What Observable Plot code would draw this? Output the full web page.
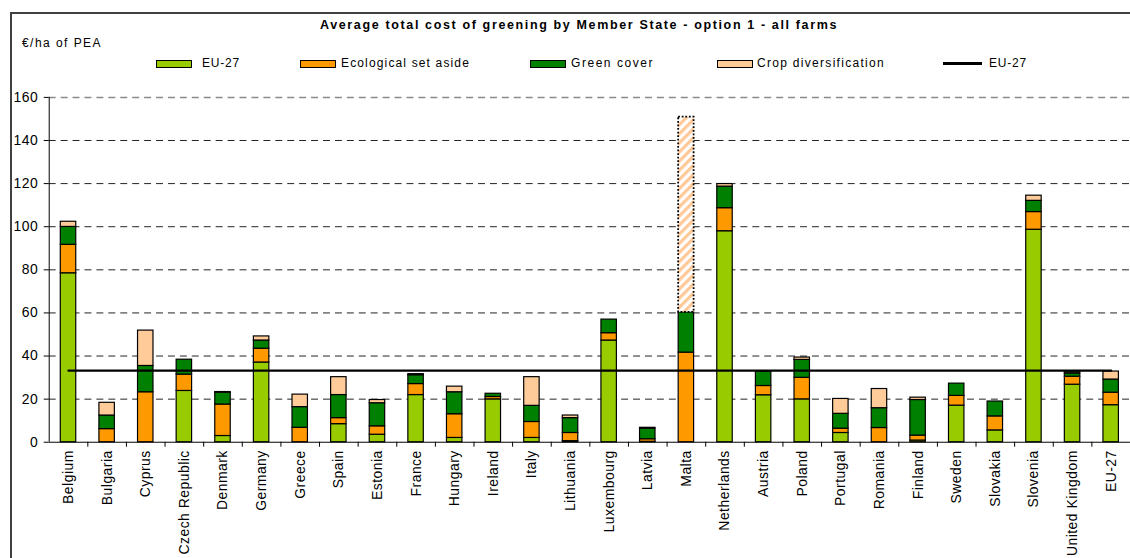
<!DOCTYPE html>
<html>
<head>
<meta charset="utf-8">
<script src="https://cdn.jsdelivr.net/npm/d3@7"></script>
<script src="https://cdn.jsdelivr.net/npm/@observablehq/plot@0.6"></script>
<style>
  html, body { margin: 0; padding: 0; background: #fff; overflow: hidden; }
  #root { position: relative; width: 1130px; height: 558px; overflow: hidden;
          font-family: "Liberation Sans", Arial, sans-serif; color: #000; }
  #frame { position: absolute; left: 10px; top: 12px; width: 1200px; height: 620px;
           border: 2px solid #404040; box-sizing: border-box; }
  .txt { position: absolute; white-space: nowrap; }
  #title { top: 17px; left: 320px; font-weight: bold; font-size: 12.5px; line-height: 16px; }
  #unit { top: 36px; left: 22px; font-size: 12px; line-height: 14px; }
  .sw { position: absolute; top: 60px; width: 36px; height: 8px; border: 1px solid #000; box-sizing: border-box; }
  .swline { position: absolute; top: 62px; width: 39px; height: 3px; background: #000; }
  .lt { top: 56px; font-size: 12px; line-height: 14px; }
  #chart { position: absolute; left: 0; top: 80px; }
</style>
</head>
<body>
<div id="root">
  <div id="frame"></div>
  <div id="chart"></div>
</div>
<script>
// ---------- data ----------
const countries = ["Belgium","Bulgaria","Cyprus","Czech Republic","Denmark","Germany","Greece","Spain",
  "Estonia","France","Hungary","Ireland","Italy","Lithuania","Luxembourg","Latvia","Malta","Netherlands",
  "Austria","Poland","Portugal","Romania","Finland","Sweden","Slovakia","Slovenia","United Kingdom","EU-27"];

const seriesNames = ["EU-27", "Ecological set aside", "Green cover", "Crop diversification"];
const seriesColors = ["#99CC00", "#FF9900", "#008000", "#FFCC99"];

const eu27Part = [78.4, 0, 0, 23.8, 2.9, 37.0, 0, 8.4, 3.5, 21.9, 2.0, 19.9, 2.0, 0.5, 47.2, 0.2, 0, 97.9,
  21.8, 19.9, 4.3, 0, 0.8, 17.0, 5.5, 98.6, 26.7, 17.2];
const ecologicalSetAside = [13.2, 6.1, 23.2, 7.6, 14.6, 6.4, 6.7, 2.8, 3.9, 5.1, 11.0, 1.1, 7.4, 3.8, 3.4, 1.2, 41.6, 10.7,
  4.3, 10.0, 2.0, 6.6, 2.3, 4.5, 6.5, 8.2, 3.7, 5.8];
const greenCover = [8.3, 6.3, 12.2, 6.9, 5.5, 3.8, 9.6, 10.7, 10.7, 4.1, 10.2, 1.5, 7.5, 6.9, 6.3, 4.9, 18.7, 10.0,
  6.6, 8.3, 6.9, 9.2, 16.5, 5.7, 6.9, 5.2, 1.5, 6.1];
const cropDiversification = [2.4, 5.9, 16.4, 0, 0.3, 1.9, 5.8, 8.3, 1.5, 0.5, 2.6, 0, 13.3, 1.2, 0, 0.4, 90.5, 1.2,
  0, 1.1, 6.9, 8.9, 1.1, 0, 0, 2.4, 0.6, 3.7];
const seriesValues = [eu27Part, ecologicalSetAside, greenCover, cropDiversification];

const hatchedCountries = ["Malta"];       // crop diversification drawn hatched
const eu27Average = 33.2;                  // EU-27 line
const yTicks = [0, 20, 40, 60, 80, 100, 120, 140, 160];

const titleText = "Average total cost of greening by Member State - option 1 - all farms";
const unitText = "€/ha of PEA";
const lineLabel = "EU-27";

// ---------- layout ----------
const W = 1137, H = 478, mL = 49, mR = 0, mT = 17, mB = 114;
const pInner = 0.6, pOuter = 0.3;
const step = (W - mL - mR) / (countries.length - pInner + 2 * pOuter);
const pxPerUnit = (H - mT - mB) / 160;
const tickLen = 5 / pxPerUnit;
const legendSwatchX = [156, 300, 530, 717, 943];
const legendTextX = [202, 341, 571, 757, 989];
const legendTextW = [38, 129, 83, 128, 38];

// ---------- rows ----------
const colorOf = Object.fromEntries(seriesNames.map((s, j) => [s, seriesColors[j]]));
const rows = [];
countries.forEach((c, i) => {
  seriesNames.forEach((s, j) => {
    const v = seriesValues[j][i];
    if (v > 0) rows.push({country: c, series: s, value: v,
      hatched: hatchedCountries.includes(c) && s === "Crop diversification"});
  });
});

const font = '"Liberation Sans", Arial, sans-serif';

const plot = Plot.plot({
  width: W, height: H, marginLeft: mL, marginRight: mR, marginTop: mT, marginBottom: mB,
  style: {fontFamily: font, fontSize: "14px", color: "#000", background: "transparent",
          letterSpacing: "0.5px", overflow: "visible"},
  x: {domain: countries, paddingInner: pInner, paddingOuter: pOuter, round: false, label: null},
  y: {domain: [0, 160], label: null},
  color: {type: "identity"},
  marks: [
    Plot.gridY(yTicks.filter(t => t > 0 && t < 160), {stroke: "#222", strokeOpacity: 1, strokeDasharray: "7,5"}),
    Plot.gridY([160], {stroke: "#8a8a8a", strokeOpacity: 1, strokeDasharray: "7,5", strokeWidth: 1.5}),
    Plot.barY(rows, Plot.stackY({x: "country", y: "value",
      fill: d => d.hatched ? "url(#hatchCD)" : colorOf[d.series],
      stroke: d => d.hatched ? "none" : "#000", strokeWidth: 1.2})),
    Plot.barY(rows, Plot.stackY({x: "country", y: "value", fill: "none",
      stroke: d => d.hatched ? "#000" : "none", strokeWidth: 1.8, strokeDasharray: "1.8,1.8"})),
    Plot.ruleY([0], {stroke: "#000"}),
    Plot.ruleX([countries[0]], {x: d => d, dx: -step / 2, y1: 0, y2: 160, stroke: "#000"}),
    Plot.ruleX(countries.slice(1), {x: d => d, dx: -step / 2, y1: 0, y2: -tickLen, stroke: "#000"}),
    Plot.lineY(countries, {x: d => d, y: () => eu27Average, stroke: "#000", strokeWidth: 2.3}),
    Plot.axisY({ticks: yTicks, tickSize: 5, tickPadding: 6, fontSize: 14, stroke: "#000"}),
    Plot.axisX({tickSize: 0, tickRotate: -90, tickPadding: 8, fontSize: 14})
  ]
});

// hatch pattern
const defs = d3.select(plot).insert("defs", ":first-child");
const pat = defs.append("pattern").attr("id", "hatchCD").attr("patternUnits", "userSpaceOnUse")
  .attr("width", 6.5).attr("height", 6.5).attr("patternTransform", "rotate(45)");
pat.append("rect").attr("width", 6.5).attr("height", 6.5).attr("fill", "#fff");
pat.append("rect").attr("width", 3.2).attr("height", 6.5).attr("fill", "#FFC896");

document.getElementById("chart").appendChild(plot);

// ---------- title, unit, legend ----------
const root = document.getElementById("root");
function addText(id, cls, text, left) {
  const el = document.createElement("div");
  el.className = "txt " + cls;
  if (id) el.id = id;
  el.textContent = text;
  if (left != null) el.style.left = left + "px";
  root.appendChild(el);
  return el;
}
function fit(el, target) {
  el.style.letterSpacing = "0px";
  const w = el.getBoundingClientRect().width;
  const n = el.textContent.length;
  el.style.letterSpacing = ((target - w) / n) + "px";
}
fit(addText("title", "", titleText), 518);
fit(addText("unit", "", unitText), 80);

const legendLabels = [...seriesNames, lineLabel];
legendLabels.forEach((lab, k) => {
  const sw = document.createElement("div");
  if (k < seriesNames.length) {
    sw.className = "sw";
    sw.style.background = seriesColors[k];
  } else {
    sw.className = "swline";
  }
  sw.style.left = legendSwatchX[k] + "px";
  root.appendChild(sw);
  fit(addText(null, "lt", lab, legendTextX[k]), legendTextW[k]);
});
</script>
</body>
</html>
